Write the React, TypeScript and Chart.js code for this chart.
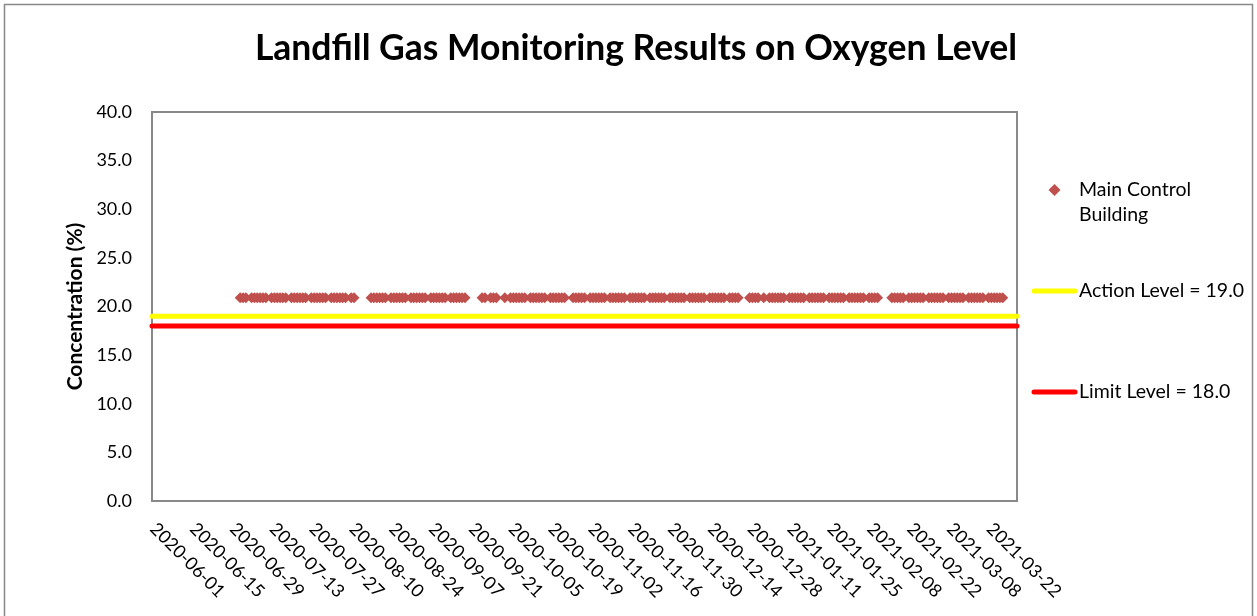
import React, { useEffect, useRef } from "react";
import { Chart, registerables } from "chart.js";

Chart.register(...registerables);

// ---------- DATA ----------
const CHART_TITLE = "Landfill Gas Monitoring Results on Oxygen Level";
const Y_AXIS_TITLE = "Concentration (%)";
const X_START_DATE = "2020-06-01";
const X_END_DATE = "2021-04-01";
const X_TICK_STEP_DAYS = 14;
const Y_MIN = 0;
const Y_MAX = 40;
const Y_STEP = 5;

const SERIES_NAME_LINES = ["Main Control", "Building"];
const ACTION_LABEL = "Action Level = 19.0";
const LIMIT_LABEL = "Limit Level = 18.0";
const ACTION_LEVEL = 19.0;
const LIMIT_LEVEL = 18.0;

const sampleDates = [
  // 2020-07 (26)
  "2020-07-02", "2020-07-03", "2020-07-04", "2020-07-06", "2020-07-07", "2020-07-08", "2020-07-09",
  "2020-07-10", "2020-07-11", "2020-07-13", "2020-07-14", "2020-07-15", "2020-07-16", "2020-07-17",
  "2020-07-18", "2020-07-20", "2020-07-21", "2020-07-22", "2020-07-23", "2020-07-24", "2020-07-25",
  "2020-07-27", "2020-07-28", "2020-07-29", "2020-07-30", "2020-07-31",
  // 2020-08 a (9)
  "2020-08-01", "2020-08-03", "2020-08-04", "2020-08-05", "2020-08-06", "2020-08-07", "2020-08-08",
  "2020-08-10", "2020-08-11",
  // 2020-08 b (13)
  "2020-08-17", "2020-08-18", "2020-08-19", "2020-08-20", "2020-08-21", "2020-08-22", "2020-08-24",
  "2020-08-25", "2020-08-26", "2020-08-27", "2020-08-28", "2020-08-29", "2020-08-31",
  // 2020-09 a (17)
  "2020-09-01", "2020-09-02", "2020-09-03", "2020-09-04", "2020-09-05", "2020-09-07", "2020-09-08",
  "2020-09-09", "2020-09-10", "2020-09-11", "2020-09-12", "2020-09-14", "2020-09-15", "2020-09-16",
  "2020-09-17", "2020-09-18", "2020-09-19",
  // 2020-09 b (5)
  "2020-09-25", "2020-09-26", "2020-09-28", "2020-09-29", "2020-09-30",
  // 2020-10 (24)
  "2020-10-03", "2020-10-05", "2020-10-06", "2020-10-07", "2020-10-08", "2020-10-09", "2020-10-10",
  "2020-10-12", "2020-10-13", "2020-10-14", "2020-10-15", "2020-10-16", "2020-10-17", "2020-10-19",
  "2020-10-20", "2020-10-21", "2020-10-22", "2020-10-23", "2020-10-24", "2020-10-27", "2020-10-28",
  "2020-10-29", "2020-10-30", "2020-10-31",
  // 2020-11 (25)
  "2020-11-02", "2020-11-03", "2020-11-04", "2020-11-05", "2020-11-06", "2020-11-07", "2020-11-09",
  "2020-11-10", "2020-11-11", "2020-11-12", "2020-11-13", "2020-11-14", "2020-11-16", "2020-11-17",
  "2020-11-18", "2020-11-19", "2020-11-20", "2020-11-21", "2020-11-23", "2020-11-24", "2020-11-25",
  "2020-11-26", "2020-11-27", "2020-11-28", "2020-11-30",
  // 2020-12 a (21)
  "2020-12-01", "2020-12-02", "2020-12-03", "2020-12-04", "2020-12-05", "2020-12-07", "2020-12-08",
  "2020-12-09", "2020-12-10", "2020-12-11", "2020-12-12", "2020-12-14", "2020-12-15", "2020-12-16",
  "2020-12-17", "2020-12-18", "2020-12-19", "2020-12-21", "2020-12-22", "2020-12-23", "2020-12-24",
  // 2020-12 b (4)
  "2020-12-28", "2020-12-29", "2020-12-30", "2020-12-31",
  // 2021-01 (25)
  "2021-01-02", "2021-01-04", "2021-01-05", "2021-01-06", "2021-01-07", "2021-01-08", "2021-01-09",
  "2021-01-11", "2021-01-12", "2021-01-13", "2021-01-14", "2021-01-15", "2021-01-16", "2021-01-18",
  "2021-01-19", "2021-01-20", "2021-01-21", "2021-01-22", "2021-01-23", "2021-01-25", "2021-01-26",
  "2021-01-27", "2021-01-28", "2021-01-29", "2021-01-30",
  // 2021-02 a (10)
  "2021-02-01", "2021-02-02", "2021-02-03", "2021-02-04", "2021-02-05", "2021-02-06", "2021-02-08",
  "2021-02-09", "2021-02-10", "2021-02-11",
  // 2021-02 b (11)
  "2021-02-16", "2021-02-17", "2021-02-18", "2021-02-19", "2021-02-20", "2021-02-22", "2021-02-23",
  "2021-02-24", "2021-02-25", "2021-02-26", "2021-02-27",
  // 2021-03 (24)
  "2021-03-01", "2021-03-02", "2021-03-03", "2021-03-04", "2021-03-05", "2021-03-06", "2021-03-08",
  "2021-03-09", "2021-03-10", "2021-03-11", "2021-03-12", "2021-03-13", "2021-03-15", "2021-03-16",
  "2021-03-17", "2021-03-18", "2021-03-19", "2021-03-20", "2021-03-22", "2021-03-23", "2021-03-24",
  "2021-03-25", "2021-03-26", "2021-03-27",
];

const oxygenValues = [
  // 2020-07 (26)
  20.9, 20.9, 20.9, 20.9, 20.9, 20.9, 20.9,
  20.9, 20.9, 20.9, 20.9, 20.9, 20.9, 20.9,
  20.9, 20.9, 20.9, 20.9, 20.9, 20.9, 20.9,
  20.9, 20.9, 20.9, 20.9, 20.9,
  // 2020-08 a (9)
  20.9, 20.9, 20.9, 20.9, 20.9, 20.9, 20.9,
  20.9, 20.9,
  // 2020-08 b (13)
  20.9, 20.9, 20.9, 20.9, 20.9, 20.9, 20.9,
  20.9, 20.9, 20.9, 20.9, 20.9, 20.9,
  // 2020-09 a (17)
  20.9, 20.9, 20.9, 20.9, 20.9, 20.9, 20.9,
  20.9, 20.9, 20.9, 20.9, 20.9, 20.9, 20.9,
  20.9, 20.9, 20.9,
  // 2020-09 b (5)
  20.9, 20.9, 20.9, 20.9, 20.9,
  // 2020-10 (24)
  20.9, 20.9, 20.9, 20.9, 20.9, 20.9, 20.9,
  20.9, 20.9, 20.9, 20.9, 20.9, 20.9, 20.9,
  20.9, 20.9, 20.9, 20.9, 20.9, 20.9, 20.9,
  20.9, 20.9, 20.9,
  // 2020-11 (25)
  20.9, 20.9, 20.9, 20.9, 20.9, 20.9, 20.9,
  20.9, 20.9, 20.9, 20.9, 20.9, 20.9, 20.9,
  20.9, 20.9, 20.9, 20.9, 20.9, 20.9, 20.9,
  20.9, 20.9, 20.9, 20.9,
  // 2020-12 a (21)
  20.9, 20.9, 20.9, 20.9, 20.9, 20.9, 20.9,
  20.9, 20.9, 20.9, 20.9, 20.9, 20.9, 20.9,
  20.9, 20.9, 20.9, 20.9, 20.9, 20.9, 20.9,
  // 2020-12 b (4)
  20.9, 20.9, 20.9, 20.9,
  // 2021-01 (25)
  20.9, 20.9, 20.9, 20.9, 20.9, 20.9, 20.9,
  20.9, 20.9, 20.9, 20.9, 20.9, 20.9, 20.9,
  20.9, 20.9, 20.9, 20.9, 20.9, 20.9, 20.9,
  20.9, 20.9, 20.9, 20.9,
  // 2021-02 a (10)
  20.9, 20.9, 20.9, 20.9, 20.9, 20.9, 20.9,
  20.9, 20.9, 20.9,
  // 2021-02 b (11)
  20.9, 20.9, 20.9, 20.9, 20.9, 20.9, 20.9,
  20.9, 20.9, 20.9, 20.9,
  // 2021-03 (24)
  20.9, 20.9, 20.9, 20.9, 20.9, 20.9, 20.9,
  20.9, 20.9, 20.9, 20.9, 20.9, 20.9, 20.9,
  20.9, 20.9, 20.9, 20.9, 20.9, 20.9, 20.9,
  20.9, 20.9, 20.9,
];

// ---------- HELPERS ----------
const DAY_MS = 86400000;
const START_MS = Date.parse(X_START_DATE);
const toDay = (iso: string) => Math.round((Date.parse(iso) - START_MS) / DAY_MS);
const fromDay = (d: number) => new Date(START_MS + d * DAY_MS).toISOString().slice(0, 10);

const X_MAX_DAY = toDay(X_END_DATE);

const FONT = "Lato, 'Open Sans', sans-serif";
const POINT_COLOR = "#C0504D";
const ACTION_COLOR = "#FFFF00";
const LIMIT_COLOR = "#FF0000";
const FRAME_COLOR = "#898989";

const decorPlugin = {
  id: "decor",
  beforeDraw(chart: any) {
    const ctx = chart.ctx as CanvasRenderingContext2D;
    ctx.save();
    ctx.fillStyle = "#ffffff";
    ctx.fillRect(0, 0, chart.width, chart.height);
    ctx.strokeStyle = FRAME_COLOR;
    ctx.lineWidth = 1.5;
    ctx.strokeRect(4.5, 4.5, chart.width - 9, chart.height + 20);
    ctx.restore();
  },
  beforeDatasetsDraw(chart: any) {
    const ctx = chart.ctx as CanvasRenderingContext2D;
    const a = chart.chartArea;
    ctx.save();
    ctx.strokeStyle = FRAME_COLOR;
    ctx.lineWidth = 2;
    ctx.strokeRect(a.left, a.top, a.right - a.left, a.bottom - a.top);
    ctx.restore();
  },
  afterDraw(chart: any) {
    const ctx = chart.ctx as CanvasRenderingContext2D;
    const a = chart.chartArea;
    const xs = chart.scales.x;
    ctx.save();
    ctx.fillStyle = "#000000";

    // Title
    ctx.font = `bold 35.5px ${FONT}`;
    ctx.textAlign = "center";
    ctx.textBaseline = "alphabetic";
    ctx.fillText(CHART_TITLE, 636, 60);

    // Y-axis title
    ctx.save();
    ctx.translate(75.5, (a.top + a.bottom) / 2);
    ctx.rotate(-Math.PI / 2);
    ctx.font = `bold 21px ${FONT}`;
    ctx.textAlign = "center";
    ctx.textBaseline = "middle";
    ctx.fillText(Y_AXIS_TITLE, 0, 0);
    ctx.restore();

    // X tick labels (rotated 45° clockwise, reading downwards)
    ctx.font = `18px ${FONT}`;
    ctx.textAlign = "left";
    ctx.textBaseline = "alphabetic";
    for (let d = 0; d <= X_MAX_DAY; d += X_TICK_STEP_DAYS) {
      const px = xs.getPixelForValue(d);
      ctx.save();
      ctx.translate(px - 3, a.bottom + 29);
      ctx.rotate(Math.PI / 4);
      ctx.fillText(fromDay(d), 0, 0);
      ctx.restore();
    }

    // Legend
    ctx.font = `19.5px ${FONT}`;
    ctx.textAlign = "left";
    ctx.textBaseline = "alphabetic";
    ctx.fillStyle = POINT_COLOR;
    ctx.beginPath();
    ctx.moveTo(1054.5, 184);
    ctx.lineTo(1060.5, 190);
    ctx.lineTo(1054.5, 196);
    ctx.lineTo(1048.5, 190);
    ctx.closePath();
    ctx.fill();
    ctx.fillStyle = "#000000";
    ctx.fillText(SERIES_NAME_LINES[0], 1079, 196);
    ctx.fillText(SERIES_NAME_LINES[1], 1079, 221);

    ctx.lineCap = "round";
    ctx.lineWidth = 5;
    ctx.strokeStyle = ACTION_COLOR;
    ctx.beginPath();
    ctx.moveTo(1034, 291);
    ctx.lineTo(1075, 291);
    ctx.stroke();
    ctx.fillText(ACTION_LABEL, 1079, 297);

    ctx.strokeStyle = LIMIT_COLOR;
    ctx.beginPath();
    ctx.moveTo(1034, 392);
    ctx.lineTo(1075, 392);
    ctx.stroke();
    ctx.fillText(LIMIT_LABEL, 1079, 398);

    ctx.restore();
  },
};

export default function App() {
  const canvasRef = useRef<HTMLCanvasElement | null>(null);

  useEffect(() => {
    document.body.style.margin = "0";
    const canvas = canvasRef.current;
    if (!canvas) return;

    const points = sampleDates.map((d, i) => ({ x: toDay(d), y: oxygenValues[i] }));

    const chart = new Chart(canvas, {
      type: "scatter",
      data: {
        datasets: [
          {
            label: SERIES_NAME_LINES.join(" "),
            data: points,
            pointStyle: "rectRot",
            pointRadius: 5.5,
            pointHoverRadius: 5.5,
            backgroundColor: POINT_COLOR,
            borderColor: POINT_COLOR,
            borderWidth: 0,
            showLine: false,
            order: 0,
          },
          {
            label: ACTION_LABEL,
            type: "line",
            data: [
              { x: 0, y: ACTION_LEVEL },
              { x: X_MAX_DAY, y: ACTION_LEVEL },
            ],
            borderColor: ACTION_COLOR,
            backgroundColor: ACTION_COLOR,
            borderWidth: 5,
            borderCapStyle: "round",
            pointRadius: 0,
            clip: 4,
            order: 2,
          },
          {
            label: LIMIT_LABEL,
            type: "line",
            data: [
              { x: 0, y: LIMIT_LEVEL },
              { x: X_MAX_DAY, y: LIMIT_LEVEL },
            ],
            borderColor: LIMIT_COLOR,
            backgroundColor: LIMIT_COLOR,
            borderWidth: 5,
            borderCapStyle: "round",
            pointRadius: 0,
            clip: 4,
            order: 1,
          },
        ],
      } as any,
      plugins: [decorPlugin],
      options: {
        responsive: false,
        animation: false,
        devicePixelRatio: 1,
        layout: { padding: { top: 112, right: 240, left: 0, bottom: 0 } },
        plugins: {
          legend: { display: false },
          title: { display: false },
          tooltip: { enabled: false },
        },
        scales: {
          x: {
            type: "linear",
            min: 0,
            max: X_MAX_DAY,
            grid: { display: false, drawTicks: false },
            border: { display: false },
            ticks: { display: false, stepSize: X_TICK_STEP_DAYS },
            afterFit: (scale: any) => {
              scale.height = 115;
            },
          },
          y: {
            min: Y_MIN,
            max: Y_MAX,
            grid: { display: false, drawTicks: false },
            border: { display: false },
            ticks: {
              stepSize: Y_STEP,
              padding: 20,
              color: "#000000",
              font: { family: FONT, size: 18 },
              callback: (v: any) => Number(v).toFixed(1),
            },
            afterFit: (scale: any) => {
              scale.width = 152;
            },
          },
        },
      } as any,
    });

    return () => chart.destroy();
  }, []);

  return (
    <canvas
      ref={canvasRef}
      width={1257}
      height={616}
      style={{ display: "block", width: 1257, height: 616 }}
    />
  );
}
